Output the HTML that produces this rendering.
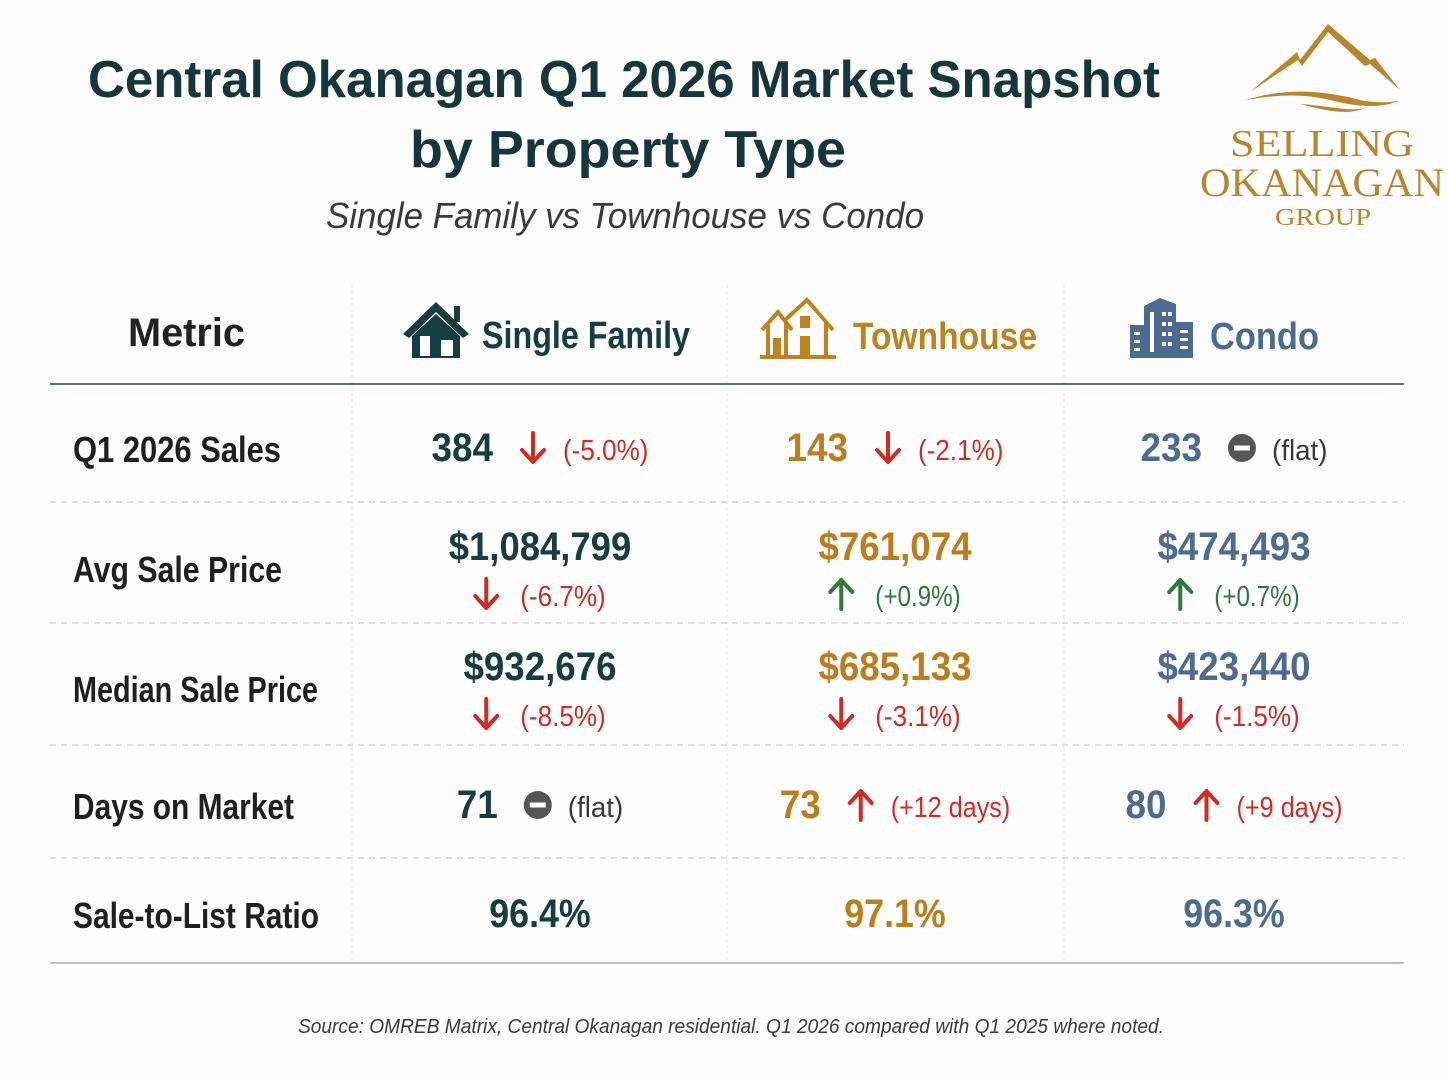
<!DOCTYPE html>
<html><head><meta charset="utf-8"><title>Central Okanagan Q1 2026 Market Snapshot</title>
<style>
html,body{margin:0;padding:0;background:#fdfdfd;}
svg{display:block;font-family:"Liberation Sans",sans-serif;}
</style></head>
<body>
<svg id="chart" width="1448" height="1086" viewBox="0 0 1448 1086" xmlns="http://www.w3.org/2000/svg">
<rect width="1448" height="1086" fill="#fdfdfd"/>
<text x="88" y="97" font-size="52" font-weight="bold" fill="#14363c" textLength="1072" lengthAdjust="spacingAndGlyphs">Central Okanagan Q1 2026 Market Snapshot</text>
<text x="410" y="167" font-size="52" font-weight="bold" fill="#14363c" textLength="436" lengthAdjust="spacingAndGlyphs">by Property Type</text>
<text x="326" y="228" font-size="36" font-style="italic" fill="#3a3a3a" textLength="598" lengthAdjust="spacingAndGlyphs">Single Family vs Townhouse vs Condo</text>

<g>
  <path d="M1250,92 L1297,52 L1300,60 L1328,24 L1370,60 L1375,58 L1400,90 L1370,64 L1365,66 L1328,32 L1302,66 L1298,60 Z" fill="#b8862e"/>
  <path d="M1246,100 C1290,86 1330,92 1360,100 C1380,104 1395,102 1400,100 C1385,108 1360,108 1330,100 C1300,93 1275,95 1246,100 Z" fill="#b8862e"/>
  <path d="M1300,104 C1330,106 1350,112 1365,108 C1350,115 1330,112 1300,104 Z" fill="#b8862e"/>
  <text x="1230" y="156" font-family="Liberation Serif,serif" font-size="38" fill="#b8862e" textLength="184" lengthAdjust="spacingAndGlyphs">SELLING</text>
  <text x="1200" y="196" font-family="Liberation Serif,serif" font-size="40" fill="#b8862e" textLength="244" lengthAdjust="spacingAndGlyphs">OKANAGAN</text>
  <text x="1275" y="225" font-family="Liberation Serif,serif" font-size="24" fill="#b8862e" textLength="96" lengthAdjust="spacingAndGlyphs">GROUP</text>
</g>

<g>
  <line x1="352" y1="285" x2="352" y2="963" stroke="#e2e2e2" stroke-dasharray="3,3"/>
  <line x1="727" y1="285" x2="727" y2="963" stroke="#e2e2e2" stroke-dasharray="3,3"/>
  <line x1="1064" y1="285" x2="1064" y2="963" stroke="#e2e2e2" stroke-dasharray="3,3"/>
  <line x1="50" y1="384" x2="1404" y2="384" stroke="#5b6f80" stroke-width="2"/>
  <line x1="50" y1="502" x2="1404" y2="502" stroke="#d4d4d4" stroke-dasharray="6,5" stroke-width="1.5"/>
  <line x1="50" y1="623" x2="1404" y2="623" stroke="#d4d4d4" stroke-dasharray="6,5" stroke-width="1.5"/>
  <line x1="50" y1="745" x2="1404" y2="745" stroke="#d4d4d4" stroke-dasharray="6,5" stroke-width="1.5"/>
  <line x1="50" y1="858" x2="1404" y2="858" stroke="#d4d4d4" stroke-dasharray="6,5" stroke-width="1.5"/>
  <line x1="50" y1="963" x2="1404" y2="963" stroke="#b8c0cc" stroke-width="2"/>
</g>

<text x="128" y="346" font-size="40" font-weight="bold" fill="#222" textLength="117" lengthAdjust="spacingAndGlyphs">Metric</text>

<g>
  <g fill="#163d42">
    <path d="M403,334 L436,302 L469,334 L463,338 L436,312 L409,338 Z"/>
    <rect x="454" y="306" width="6" height="16"/>
    <path d="M412,336 L436,314 L460,336 L460,358 L412,358 Z"/>
    <rect x="420" y="336" width="10" height="20" fill="#fdfdfd"/>
    <rect x="441" y="340" width="12" height="16" fill="#fdfdfd"/>
  </g>
  <text x="482" y="348" font-size="38" font-weight="bold" fill="#163d42" textLength="208" lengthAdjust="spacingAndGlyphs">Single Family</text>
</g>
<g>
  <g fill="none" stroke="#c0821f" stroke-width="4">
    <path d="M762,330 L778,312 L792,330"/>
    <path d="M785,320 L807,300 L833,330"/>
    <path d="M768,325 L768,356 M826,322 L826,356 M786,322 L786,356"/>
    <line x1="760" y1="357" x2="836" y2="357"/>
    <rect x="773" y="338" width="8" height="18" fill="#c0821f" stroke="none"/>
    <rect x="800" y="316" width="10" height="12" fill="#c0821f" stroke="none"/>
    <rect x="800" y="336" width="10" height="20" fill="#c0821f" stroke="none"/>
  </g>
  <text x="853" y="349" font-size="38" font-weight="bold" fill="#c0821f" textLength="184" lengthAdjust="spacingAndGlyphs">Townhouse</text>
</g>
<g>
  <g>
    <rect x="1130" y="325" width="14" height="33" fill="#4d6b91"/>
    <rect x="1176" y="322" width="17" height="36" fill="#4d6b91"/>
    <path d="M1144,306 L1160,298 L1176,304 L1176,358 L1144,358 Z" fill="#4d6b91"/>
    <g fill="#fdfdfd">
      <rect x="1134" y="332" width="6" height="3"/><rect x="1134" y="340" width="6" height="3"/><rect x="1134" y="348" width="6" height="3"/>
      <rect x="1150" y="312" width="4" height="40"/>
      <rect x="1162" y="312" width="4" height="4"/><rect x="1168" y="312" width="4" height="4"/>
      <rect x="1162" y="322" width="4" height="4"/><rect x="1168" y="322" width="4" height="4"/>
      <rect x="1162" y="332" width="4" height="4"/><rect x="1168" y="332" width="4" height="4"/>
      <rect x="1162" y="342" width="4" height="4"/><rect x="1168" y="342" width="4" height="4"/>
      <rect x="1180" y="330" width="8" height="3"/><rect x="1180" y="338" width="8" height="3"/><rect x="1180" y="346" width="8" height="3"/>
    </g>
  </g>
  <text x="1210" y="349" font-size="38" font-weight="bold" fill="#4d6b91" textLength="109" lengthAdjust="spacingAndGlyphs">Condo</text>
</g>

<g id="rowLabels"></g>
<g id="cells"></g>

<text x="298" y="1033" font-size="20" font-style="italic" fill="#3a3a3a" textLength="866" lengthAdjust="spacingAndGlyphs">Source: OMREB Matrix, Central Okanagan residential. Q1 2026 compared with Q1 2025 where noted.</text>
</svg>
<script>
const metrics = ["Q1 2026 Sales", "Avg Sale Price", "Median Sale Price", "Days on Market", "Sale-to-List Ratio"];
const singleFamilyValues = ["384", "$1,084,799", "$932,676", "71", "96.4%"];
const townhouseValues = ["143", "$761,074", "$685,133", "73", "97.1%"];
const condoValues = ["233", "$474,493", "$423,440", "80", "96.3%"];
const singleFamilyChanges = ["(-5.0%)", "(-6.7%)", "(-8.5%)", "(flat)", ""];
const townhouseChanges = ["(-2.1%)", "(+0.9%)", "(-3.1%)", "(+12 days)", ""];
const condoChanges = ["(flat)", "(+0.7%)", "(-1.5%)", "(+9 days)", ""];
// direction: down / up / flat / none ; tone: bad (red) / good (green)
const singleFamilyDir = ["down", "down", "down", "flat", "none"];
const townhouseDir = ["down", "up", "down", "up", "none"];
const condoDir = ["flat", "up", "down", "up", "none"];
const upTone = ["good", "good", "good", "bad", "good"];

const NS = "http://www.w3.org/2000/svg";
const rowCenters = [446, 566, 686, 803, 912];
const labelW = [208, 209, 245, 221, 246];
const colCenters = [540, 895, 1234];
const colColors = ["#163d42", "#bd7d1c", "#4d6b91"];
const colNames = ["single-family", "townhouse", "condo"];
const layoutType = ["inline", "stacked", "stacked", "inline", "single"];

function mk(tag, attrs, parent) {
  const e = document.createElementNS(NS, tag);
  for (const k in attrs) e.setAttribute(k, attrs[k]);
  parent.appendChild(e);
  return e;
}
function valueWidth(s) {
  let w = 0;
  for (const c of s) {
    if (/[0-9]/.test(c)) w += 20.5;
    else if (c === "," || c === ".") w += 9;
    else if (c === "$") w += 21;
    else if (c === "%") w += 31;
    else w += 18;
  }
  return w;
}
function changeWidth(s) {
  let w = 0;
  for (const c of s) {
    if (c === "(" || c === ")" ) w += 9;
    else if (c === " ") w += 7;
    else if (c === "." ) w += 7;
    else if (c === "f" || c === "l" || c === "t") w += 8;
    else if (c === "%") w += 20;
    else w += 13.5;
  }
  return w;
}

const labels = document.getElementById("rowLabels");


metrics.forEach((m, i) => {
  const t = mk("text", {x: 73, y: rowCenters[i] + 16, "font-size": 36, "font-weight": "bold", fill: "#1f1f1f", textLength: labelW[i], lengthAdjust: "spacingAndGlyphs"}, labels);
  
  
  t.textContent = m;
});

function drawIndicator(g, dir, tone, cx, cy) {
  if (dir === "flat") {
    const c = mk("circle", {cx: cx, cy: cy, r: 14, fill: "#555"}, g);
    
    
    mk("rect", {x: cx - 8, y: cy - 2.5, width: 16, height: 5, fill: "#fff"}, g);
    return;
  }
  const color = dir === "down" ? "#d22a25" : (tone === "good" ? "#2f7a3a" : "#d22a25");
  const p = dir === "down"
    ? `M${cx},${cy - 15} L${cx},${cy + 13} M${cx - 11},${cy + 2} L${cx},${cy + 14} L${cx + 11},${cy + 2}`
    : `M${cx},${cy + 15} L${cx},${cy - 13} M${cx - 11},${cy - 2} L${cx},${cy - 14} L${cx + 11},${cy - 2}`;
  const a = mk("path", {d: p, stroke: color, "stroke-width": 4, fill: "none", "stroke-linecap": "round", "stroke-linejoin": "round"}, g);
  
  
}

const cells = document.getElementById("cells");


const allValues = [singleFamilyValues, townhouseValues, condoValues];
const allChanges = [singleFamilyChanges, townhouseChanges, condoChanges];
const allDirs = [singleFamilyDir, townhouseDir, condoDir];

for (let c = 0; c < 3; c++) {
  for (let r = 0; r < metrics.length; r++) {
    const g = mk("g", {}, cells);
    
    
    const val = allValues[c][r], ch = allChanges[c][r], dir = allDirs[c][r];
    const vw = valueWidth(val);
    const cw = changeWidth(ch);
    const chColor = dir === "flat" ? "#3a3a3a" : (dir === "down" ? "#d22a25" : (upTone[r] === "good" ? "#2f7a3a" : "#d22a25"));
    const cx = colCenters[c], cy = rowCenters[r];
    let vx, vy, ix, iy, tx, ty;
    if (layoutType[r] === "inline") {
      const total = vw + 40 + 30 + cw;
      vx = cx - total / 2; vy = cy + 15;
      ix = vx + vw + 40; iy = cy + 2;
      tx = ix + 30; ty = cy + 14;
    } else if (layoutType[r] === "stacked") {
      vx = cx - vw / 2; vy = cy - 6;
      const total = 24 + 22 + cw;
      ix = cx - total / 2 + 12; iy = cy + 28;
      tx = ix + 34; ty = cy + 40;
    } else {
      vx = cx - vw / 2; vy = cy + 15;
    }
    const vt = mk("text", {x: vx, y: vy, "font-size": 40, "font-weight": "bold", fill: colColors[c], textLength: vw, lengthAdjust: "spacingAndGlyphs"}, g);
    
    
    vt.textContent = val;
    if (dir !== "none") {
      drawIndicator(g, dir, upTone[r], ix, iy);
      const ct = mk("text", {x: tx, y: ty, "font-size": 29, fill: chColor, textLength: cw, lengthAdjust: "spacingAndGlyphs"}, g);
      
      
      ct.textContent = ch;
    }
  }
}
</script>
</body></html>
